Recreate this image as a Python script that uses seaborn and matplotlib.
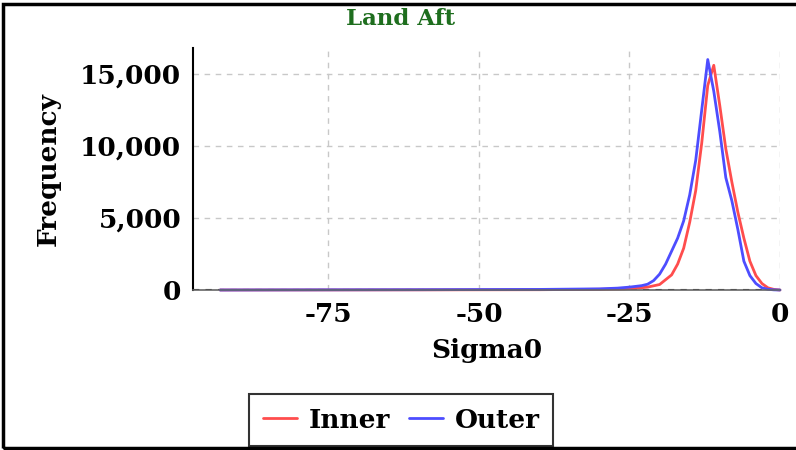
import numpy as np
import pandas as pd
import matplotlib
matplotlib.use('Agg')
import matplotlib.pyplot as plt
import seaborn as sns
from matplotlib.ticker import FuncFormatter
from matplotlib.lines import Line2D

# ---- data ----
inner_x = [-93, -60, -40, -30, -26, -24, -22, -20, -18, -17, -16, -15, -14,
           -13, -12, -11, -10, -9, -8, -7, -6, -5, -4, -3, -2, -1, 0]
inner_y = [0, 10, 20, 50, 80, 120, 200, 380, 1050, 1800, 2900, 4700, 6900,
           10200, 14200, 15600, 12800, 9800, 7500, 5400, 3600, 2000, 1000,
           450, 150, 40, 0]

outer_x = [-93, -60, -40, -30, -27, -25, -24, -23, -22, -21, -20, -19, -18,
           -17, -16, -15, -14, -13, -12, -11, -10, -9, -8, -7, -6, -5, -4,
           -3, -2, -1, 0]
outer_y = [0, 20, 40, 80, 130, 200, 250, 300, 400, 650, 1100, 1800, 2700,
           3600, 4800, 6600, 9000, 12500, 16000, 13800, 11000, 7800, 6200,
           4200, 2000, 1000, 450, 150, 50, 10, 0]

df = pd.concat([
    pd.DataFrame({'Sigma0': inner_x, 'Frequency': inner_y, 'Set': 'Inner'}),
    pd.DataFrame({'Sigma0': outer_x, 'Frequency': outer_y, 'Set': 'Outer'}),
])

sns.set_style('white')
plt.rcParams['font.family'] = ['DejaVu Serif']
plt.rcParams['font.weight'] = 'bold'
plt.rcParams['axes.unicode_minus'] = False
plt.rcParams['text.color'] = 'black'
plt.rcParams['axes.labelcolor'] = 'black'

colors = {'Inner': '#ff4d4d', 'Outer': '#4d4dff'}

fig = plt.figure(figsize=(7.96, 4.5), dpi=100)
ax = fig.add_axes([193 / 796, 1 - 290 / 450, 587 / 796, 242 / 450])

sns.lineplot(data=df, x='Sigma0', y='Frequency', hue='Set', palette=colors,
             linewidth=2, ax=ax, legend=False, clip_on=False)

ax.set_xlim(-97.5, 0)
ax.set_ylim(0, 16800)
ax.set_xticks([-75, -50, -25, 0])
ax.set_yticks([0, 5000, 10000, 15000])
ax.yaxis.set_major_formatter(FuncFormatter(lambda v, p: f'{int(v):,}'))
ax.tick_params(labelsize=19, length=5, width=1.2, colors='black')
for lab in ax.get_xticklabels() + ax.get_yticklabels():
    lab.set_fontweight('bold')

ax.grid(True, color='#c8c8c8', linestyle=(0, (4, 4)), linewidth=1)
ax.axhline(0, color='black', linestyle=(0, (3, 3)), linewidth=1.5, zorder=1)
for s in ['top', 'right']:
    ax.spines[s].set_visible(False)
ax.spines['left'].set_color('black')
ax.spines['left'].set_linewidth(1.5)
ax.spines['bottom'].set_color('#666666')
ax.spines['bottom'].set_linewidth(1.2)

ax.set_xlabel('Sigma0', fontsize=19, fontweight='bold', labelpad=8)
ax.set_ylabel('Frequency', fontsize=19, fontweight='bold', labelpad=14)

fig.text(0.503, 0.958, 'Land Aft', ha='center', va='center', fontsize=16.5,
         fontweight='bold', color='#1e6e1e')

handles = [Line2D([0], [0], color=colors[k], lw=2) for k in ['Inner', 'Outer']]
leg = fig.legend(handles, ['Inner', 'Outer'], loc='center',
                 bbox_to_anchor=(0.504, 1 - 420 / 450), ncol=2, frameon=True,
                 fancybox=False, handlelength=1.3,
                 columnspacing=0.7, handletextpad=0.45, borderpad=0.5,
                 prop={'weight': 'bold', 'size': 19})
leg.get_frame().set_edgecolor('black')
leg.get_frame().set_linewidth(1.5)

# figure frame (right edge falls off the canvas)
fig.add_artist(plt.Rectangle((3 / 796, 1 - 448 / 450), 1.0, 444 / 450,
                             transform=fig.transFigure, fill=False,
                             edgecolor='black', linewidth=2.5))

fig.savefig('out.png', dpi=100)
